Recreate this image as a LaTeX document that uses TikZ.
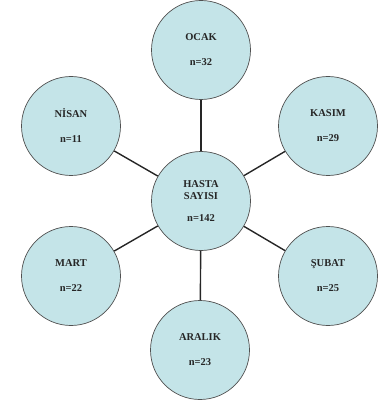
\documentclass[tikz,border=0pt]{standalone}
\usepackage{fontspec}
\setmainfont{Liberation Serif}
\definecolor{fillc}{RGB}{196,228,232}
\definecolor{edgec}{RGB}{80,80,80}
\begin{document}
\begin{tikzpicture}[x=1pt,y=-1pt,
  month/.style={circle,draw=edgec,line width=0.7pt,fill=fillc,minimum size=99pt,inner sep=0pt,align=center,font=\bfseries\fontsize{10.5}{12}\selectfont,text=black!85},
  link/.style={line width=1.4pt,black!85}]
\useasboundingbox (0,0) rectangle (377,403);
\node[month] (c) at (201,201) {HASTA\\SAYISI\\[10pt]n=142};
\node[month] (ocak) at (201,50) {OCAK\\[13pt]n=32};
\node[month] (nisan) at (71,126) {NİSAN\\[13pt]n=11};
\node[month] (kasim) at (328,126) {KASIM\\[13pt]n=29};
\node[month] (mart) at (71,276) {MART\\[13pt]n=22};
\node[month] (subat) at (328,276) {ŞUBAT\\[13pt]n=25};
\node[month] (aralik) at (200,350) {ARALIK\\[13pt]n=23};
\draw[link] (c) -- (ocak);
\draw[link] (c) -- (nisan);
\draw[link] (c) -- (kasim);
\draw[link] (c) -- (mart);
\draw[link] (c) -- (subat);
\draw[link] (c) -- (aralik);
\end{tikzpicture}
\end{document}
